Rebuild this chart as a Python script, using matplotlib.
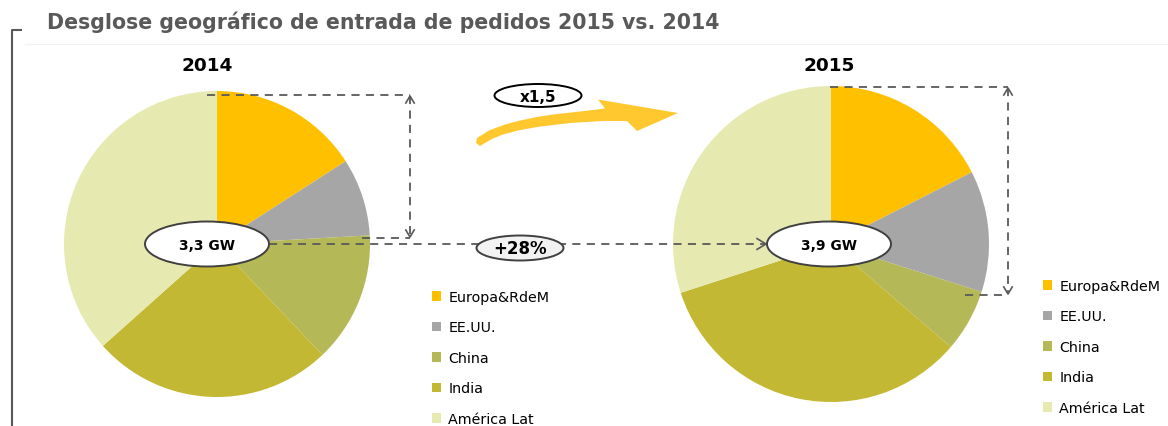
import numpy as np
import matplotlib
matplotlib.use('Agg')
import matplotlib.pyplot as plt
from matplotlib.patches import Ellipse, Polygon

# Data (share of order intake, %)
regions = ['Europa&RdeM', 'EE.UU.', 'China', 'India', 'América Lat']
share_2014 = [15.9, 8.2, 13.8, 25.5, 36.6]
share_2015 = [17.5, 12.4, 6.4, 33.7, 30.0]
years = ['2014', '2015']
totals = ['3,3 GW', '3,9 GW']
growth_label = '+28%'
ratio_label = 'x1,5'
colors = ['#FFC000', '#A6A6A6', '#B5B857', '#C3B833', '#E6EAB0']

W, H = 1168, 427
fig = plt.figure(figsize=(W / 100, H / 100), dpi=100)
plt.rcParams['font.family'] = 'DejaVu Sans'


def px_axes(x0, y0, w, h, **kw):
    # axes box from pixel coords (origin top-left)
    return fig.add_axes([x0 / W, 1 - (y0 + h) / H, w / W, h / H], **kw)


# Pies
pie_specs = [(share_2014, 217, 245, 153), (share_2015, 831, 245, 158)]
wedges_all = []
for vals, cx, cy, r in pie_specs:
    ax = px_axes(cx - r, cy - r, 2 * r, 2 * r)
    wedges, _ = ax.pie(vals, colors=colors, startangle=90, counterclock=False,
                       wedgeprops=dict(linewidth=0))
    ax.set_xlim(-1, 1)
    ax.set_ylim(-1, 1)
    ax.set_axis_off()
    wedges_all.append(wedges)

# Overlay in pixel coordinates
ov = px_axes(0, 0, W, H, zorder=5)
ov.set_xlim(0, W)
ov.set_ylim(H, 0)
ov.set_axis_off()

dark = '#595959'
ov.text(47, 22, 'Desglose geográfico de entrada de pedidos 2015 vs. 2014',
        fontsize=14.8, fontweight='bold', color=dark, va='center', ha='left')
ov.plot([22, 12, 12], [31, 31, H], color=dark, lw=1.5, solid_capstyle='butt')
ov.plot([25, W], [45, 45], color='#F2F2F2', lw=0.8)

for lbl, x in zip(years, [207, 829]):
    ov.text(x, 66, lbl, fontsize=13.3, fontweight='bold', color='black',
            ha='center', va='center')

dash = dict(color=dark, lw=1.3, ls=(0, (4.5, 3.5)))


def head(x, y, direction, size=8):
    # open V arrowhead
    dx, dy = {'right': (-1, 0), 'up': (0, 1), 'down': (0, -1)}[direction]
    px, py = -dy, dx
    ov.plot([x + dx * size + px * size * 0.6, x, x + dx * size - px * size * 0.6],
            [y + dy * size + py * size * 0.6, y, y + dy * size - py * size * 0.6],
            color=dark, lw=1.2)


# main comparison arrow
ov.plot([269, 766], [245, 245], **dash)
head(766, 245, 'right', 9)

# 2014 bracket
ov.plot([207, 410], [96, 96], **dash)
ov.plot([410, 410], [97, 238], **dash)
ov.plot([362, 410], [239, 239], **dash)
head(410, 97, 'up', 7)
head(410, 238, 'down', 7)

# 2015 bracket
ov.plot([830, 1008], [88, 88], **dash)
ov.plot([1008, 1008], [89, 295], **dash)
ov.plot([965, 1008], [296, 296], **dash)
head(1008, 89, 'up', 7)
head(1008, 295, 'down', 7)

# total ellipses
for lbl, x in zip(totals, [207, 829]):
    ov.add_patch(Ellipse((x, 245), 124, 45, facecolor='white', edgecolor='#404040', lw=1.4, zorder=6))
    ov.text(x, 246, lbl, fontsize=10, fontweight='bold', ha='center', va='center', zorder=7)

ov.add_patch(Ellipse((520, 249), 87, 25, facecolor='#F2F2F2', edgecolor='#404040', lw=1.4, zorder=6))
ov.text(520, 249, growth_label, fontsize=12, fontweight='bold', ha='center', va='center', zorder=7)

ov.add_patch(Ellipse((538, 96.5), 87, 23, facecolor='white', edgecolor='black', lw=1.4, zorder=6))
ov.text(538, 97, ratio_label, fontsize=11, fontweight='bold', ha='center', va='center', zorder=7)

# curved yellow arrow
curve = [(477, 139), (489, 131.5), (505, 125.5), (520, 121.5), (537, 118), (553, 115.5),
         (580, 112.5), (605, 109.5), (598, 100.5), (678, 114), (637, 132), (627, 122),
         (603, 122), (570, 124), (537, 128), (518, 131.5), (503, 135.5), (492, 140),
         (485, 144), (480, 147), (476, 144)]
ov.add_patch(Polygon(curve, closed=True, facecolor='#FFC82E', edgecolor='none'))

# legends
for wedges, (x, y) in zip(wedges_all, [(432, 291), (1043, 280)]):
    fig.legend(wedges, regions, loc='upper left', bbox_to_anchor=(x / W, 1 - y / H),
               frameon=False, fontsize=10.3, handlelength=0.65, handleheight=0.65,
               handletextpad=0.5, labelspacing=1.15, borderpad=0, borderaxespad=0)

fig.savefig('out.png', dpi=100)
